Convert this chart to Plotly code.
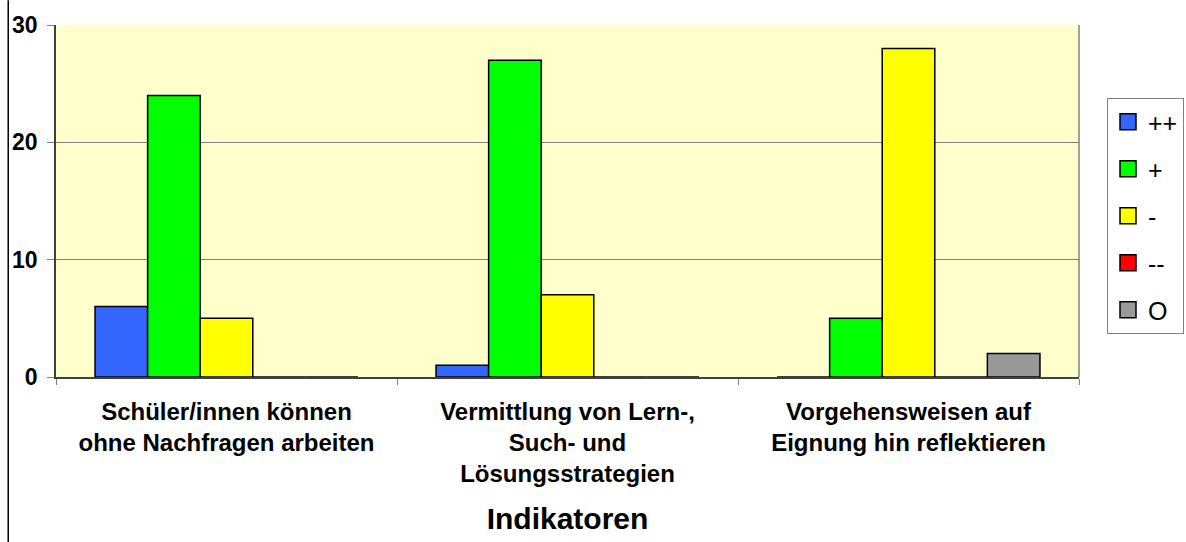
import plotly.graph_objects as go

categories = [
    "Schüler/innen können<br>ohne Nachfragen arbeiten",
    "Vermittlung von Lern-,<br>Such- und<br>Lösungsstrategien",
    "Vorgehensweisen auf<br>Eignung hin reflektieren",
]
series_names = ["++", "+", "-", "--", "O"]
series_colors = ["#3366FF", "#00FF00", "#FFFF00", "#FF0000", "#999999"]
values_pp = [6, 1, 0]
values_p = [24, 27, 5]
values_m = [5, 7, 28]
values_mm = [0, 0, 0]
values_o = [0, 0, 2]
all_values = [values_pp, values_p, values_m, values_mm, values_o]
y_ticks = [0, 10, 20, 30]
x_title = "Indikatoren"

FONT = "Liberation Sans, Arial, sans-serif"

fig = go.Figure()
for name, color, vals in zip(series_names, series_colors, all_values):
    fig.add_trace(go.Bar(
        x=categories, y=vals, name=name, showlegend=False,
        marker=dict(color=color, line=dict(color="black", width=1.5)),
    ))
# legend entries with larger square swatches
for name, color in zip(series_names, series_colors):
    fig.add_trace(go.Scatter(
        x=[None], y=[None], mode="markers", name=name, legendgroup=name,
        marker=dict(symbol="square", size=16, color=color,
                    line=dict(color="black", width=1.5)),
    ))

fig.update_layout(
    width=1186, height=542,
    margin=dict(l=52, r=107, t=23, b=164),
    paper_bgcolor="white",
    plot_bgcolor="#FFFFCC",
    barmode="group",
    bargap=0.229,
    bargroupgap=0,
    font=dict(family=FONT, color="black"),
    legend=dict(
        xref="container", yref="container",
        x=1107 / 1186, xanchor="left", y=1 - 98 / 542, yanchor="top",
        bordercolor="#808080", borderwidth=1, bgcolor="white",
        font=dict(size=25, family=FONT, color="black"),
        tracegroupgap=11.5, itemsizing="trace", entrywidth=70,
    ),
    showlegend=True,
)
fig.update_yaxes(
    range=[0, 30], tickvals=y_ticks, ticktext=[str(v) for v in y_ticks],
    showgrid=True, gridcolor="#808080", gridwidth=1,
    showline=True, linecolor="#404040", linewidth=1.5,
    ticks="outside", ticklen=7, tickcolor="#808080", ticklabelstandoff=5,
    tickfont=dict(size=23, family=FONT, color="black", weight="bold"),
    zeroline=False, fixedrange=True,
)
fig.update_xaxes(
    showline=True, linecolor="#404040", linewidth=2, mirror=False,
    ticks="outside", ticklen=6, tickcolor="#808080", tickson="boundaries",
    ticklabelstandoff=12,
    tickfont=dict(size=24, family=FONT, color="black", weight="bold"),
    title=dict(text=x_title, standoff=22,
               font=dict(size=30, family=FONT, color="black", weight="bold")),
    fixedrange=True,
)
# right border of plot area
fig.add_shape(type="line", xref="paper", yref="paper", x0=1, x1=1, y0=0, y1=1,
              line=dict(color="#808080", width=1.5))
# left outer border of the chart image
fig.add_shape(type="line", xref="paper", yref="paper", x0=-0.0467, x1=-0.0467,
              y0=-0.47, y1=1.07, line=dict(color="black", width=1.5))

fig.write_html("out.html", config={"displayModeBar": False},
               post_script="document.body.style.margin='0';")
